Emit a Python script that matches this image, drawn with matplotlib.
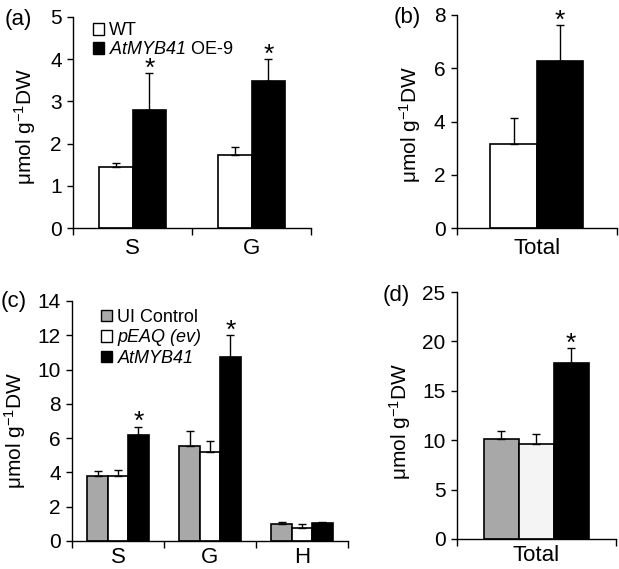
import matplotlib
matplotlib.use("Agg")
import matplotlib.pyplot as plt
from matplotlib.patches import Patch

plt.rcParams['font.family'] = ['Liberation Sans', 'DejaVu Sans']
plt.rcParams['mathtext.fontset'] = 'custom'
plt.rcParams['mathtext.rm'] = 'Liberation Sans'
plt.rcParams['mathtext.it'] = 'Liberation Sans:italic'
# sf slot used for fully italic gene names (digits included)
plt.rcParams['mathtext.sf'] = 'Liberation Sans:italic'

# (a) WT vs AtMYB41 OE-9, S and G lignin units
a_cats = ['S', 'G']
a_wt = [1.45, 1.72]
a_wt_err = [0.08, 0.2]
a_oe = [2.80, 3.48]
a_oe_err = [0.87, 0.52]

# (b) totals
b_wt = 3.15
b_wt_err = 1.0
b_oe = 6.27
b_oe_err = 1.34

# (c) transient expression
c_cats = ['S', 'G', 'H']
c_ui = [3.80, 5.57, 0.98]
c_ui_err = [0.29, 0.85, 0.15]
c_ev = [3.80, 5.20, 0.78]
c_ev_err = [0.33, 0.62, 0.22]
c_myb = [6.17, 10.75, 1.07]
c_myb_err = [0.50, 1.27, 0.04]

# (d) totals
d_vals = [10.14, 9.63, 17.77]
d_err = [0.84, 0.95, 1.52]
d_colors = ['#a8a8a8', '#f4f4f4', 'black']

ylab = r'μmol g$^{-1}$DW'
tick_fs = 15
cat_fs = 16
err_kw = dict(fmt='none', ecolor='black', elinewidth=1, capsize=3, capthick=1)

fig = plt.figure(figsize=(6.19, 5.69), dpi=100)


def style(ax, ncat, ymax, ystep, lab_x, lab_y):
    ax.spines['top'].set_visible(False)
    ax.spines['right'].set_visible(False)
    for s in ['left', 'bottom']:
        ax.spines[s].set_linewidth(1)
    ax.set_xlim(-0.5, ncat - 0.5)
    ax.set_ylim(0, ymax)
    ax.set_yticks(range(0, ymax + 1, ystep))
    ax.tick_params(axis='y', direction='out', length=4, width=1, pad=4, labelsize=tick_fs)
    # boundary ticks (major) and centred labels (minor)
    ax.set_xticks([i - 0.5 for i in range(ncat + 1)])
    ax.set_xticklabels([])
    ax.tick_params(axis='x', which='major', direction='out', length=5, width=1)
    ax.set_ylabel(ylab, fontsize=15, va='center')
    ax.yaxis.set_label_coords(lab_x, lab_y)


def cat_labels(ax, xs, labels, pad):
    ax.set_xticks(xs, minor=True)
    ax.set_xticklabels(labels, minor=True, fontsize=cat_fs)
    ax.tick_params(axis='x', which='minor', length=0, pad=pad)


def star(ax, x, y):
    ax.annotate('*', (x, y), xytext=(0, -5.5), textcoords='offset points',
                ha='center', va='bottom', fontsize=19)


# ---- (a)
ax = fig.add_axes([73 / 619, 1 - 228 / 569, 238 / 619, 211 / 569])
w = 0.285
xs = list(range(len(a_cats)))
x1 = [x - w / 2 for x in xs]
x2 = [x + w / 2 for x in xs]
ax.bar(x1, a_wt, w, color='white', edgecolor='black', linewidth=1.2)
ax.bar(x2, a_oe, w, color='black', edgecolor='black', linewidth=1.2)
ax.errorbar(x1, a_wt, yerr=[[0] * 2, a_wt_err], **err_kw)
ax.errorbar(x2, a_oe, yerr=[[0] * 2, a_oe_err], **err_kw)
for x, v, e in zip(x2, a_oe, a_oe_err):
    star(ax, x, v + e)
style(ax, 2, 5, 1, -0.202, 0.483)
cat_labels(ax, xs, a_cats, 7)
handles = [Patch(facecolor='white', edgecolor='black', linewidth=1),
           Patch(facecolor='black', edgecolor='black', linewidth=1)]
ax.legend(handles, ['WT', r'$\mathsf{AtMYB41}$ OE-9'], loc='upper left',
          bbox_to_anchor=(0.03, 1.035), frameon=False, fontsize=13,
          handlelength=0.6, handleheight=0.6, handletextpad=0.3,
          labelspacing=0.12, borderpad=0.2)

# ---- (b)
ax = fig.add_axes([456.7 / 619, 1 - 228 / 569, 160 / 619, 213 / 569])
w = 0.29
ax.bar([-w / 2], [b_wt], w, color='white', edgecolor='black', linewidth=1.2)
ax.bar([w / 2], [b_oe], w, color='black', edgecolor='black', linewidth=1.2)
ax.errorbar([-w / 2], [b_wt], yerr=[[0], [b_wt_err]], **err_kw)
ax.errorbar([w / 2], [b_oe], yerr=[[0], [b_oe_err]], **err_kw)
star(ax, w / 2, b_oe + b_oe_err)
style(ax, 1, 8, 2, -0.29, 0.484)
cat_labels(ax, [0], ['Total'], 7)

# ---- (c)
ax = fig.add_axes([72 / 619, 1 - 541 / 569, 276 / 619, 240 / 569])
w = 0.222
xs = list(range(len(c_cats)))
xa = [x - w for x in xs]
xc = [x + w for x in xs]
ax.bar(xa, c_ui, w, color='#a8a8a8', edgecolor='black', linewidth=1.2)
ax.bar(xs, c_ev, w, color='white', edgecolor='black', linewidth=1.2)
ax.bar(xc, c_myb, w, color='black', edgecolor='black', linewidth=1.2)
ax.errorbar(xa, c_ui, yerr=[[0] * 3, c_ui_err], **err_kw)
ax.errorbar(xs, c_ev, yerr=[[0] * 3, c_ev_err], **err_kw)
ax.errorbar(xc, c_myb, yerr=[[0] * 3, c_myb_err], **err_kw)
for i in [0, 1]:
    star(ax, xc[i], c_myb[i] + c_myb_err[i])
style(ax, 3, 14, 2, -0.205, 0.46)
cat_labels(ax, xs, c_cats, 4.5)
handles = [Patch(facecolor='#a8a8a8', edgecolor='black', linewidth=1),
           Patch(facecolor='white', edgecolor='black', linewidth=1),
           Patch(facecolor='black', edgecolor='black', linewidth=1)]
leg = ax.legend(handles, ['UI Control', 'pEAQ (ev)', 'AtMYB41'],
                loc='upper left', bbox_to_anchor=(0.06, 1.02), frameon=False,
                fontsize=13, handlelength=0.6, handleheight=0.6,
                handletextpad=0.3, labelspacing=0.2, borderpad=0.2)
for t in leg.get_texts()[1:]:
    t.set_fontstyle('italic')

# ---- (d)
ax = fig.add_axes([456.7 / 619, 1 - 539 / 569, 159 / 619, 247 / 569])
w = 0.22
xd = [-w, 0, w]
ax.bar(xd, d_vals, w, color=d_colors, edgecolor='black', linewidth=1.2)
ax.errorbar(xd, d_vals, yerr=[[0] * 3, d_err], **err_kw)
star(ax, xd[2], d_vals[2] + d_err[2])
style(ax, 1, 25, 5, -0.357, 0.478)
cat_labels(ax, [0], ['Total'], 4.5)

# panel letters
fig.text(5 / 619, 1 - 20 / 569, '(a)', fontsize=16, va='center')
fig.text(394 / 619, 1 - 18 / 569, '(b)', fontsize=16, va='center')
fig.text(1 / 619, 1 - 302 / 569, '(c)', fontsize=16, va='center')
fig.text(383 / 619, 1 - 296 / 569, '(d)', fontsize=16, va='center')

fig.savefig('out.png', dpi=100)
